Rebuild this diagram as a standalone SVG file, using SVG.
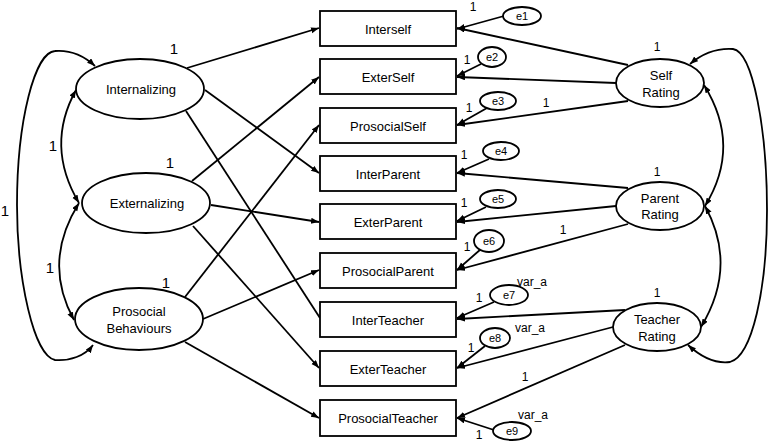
<svg xmlns="http://www.w3.org/2000/svg" width="770" height="445" viewBox="0 0 770 445">
<defs>
<marker id="ah" markerUnits="userSpaceOnUse" markerWidth="9" markerHeight="7" refX="8" refY="3" orient="auto-start-reverse">
<path d="M0,0 L8,3 L0,6 z" fill="#000"/>
</marker>
<style>
.n{fill:#fff;stroke:#000;stroke-width:1.8}
.c{fill:none;stroke:#000;stroke-width:1.8}
.t{font-family:"Liberation Sans",Arial,sans-serif;font-size:13px;fill:#000;text-anchor:middle;dominant-baseline:central}
.e{font-family:"Liberation Sans",Arial,sans-serif;font-size:11px;fill:#000;text-anchor:middle;dominant-baseline:central}
.s{font-family:"Liberation Sans",Arial,sans-serif;font-size:12px;fill:#000;text-anchor:middle;dominant-baseline:central}
.b{font-family:"Liberation Sans",Arial,sans-serif;font-size:15px;fill:#000;text-anchor:middle;dominant-baseline:central}
</style>
</defs>
<rect width="770" height="445" fill="#fff"/>

<g id="connectors">
<!-- left factor loadings -->
<line class="c" x1="187" y1="68" x2="319" y2="28" marker-end="url(#ah)"/>
<line class="c" x1="205" y1="90" x2="319" y2="173" marker-end="url(#ah)"/>
<line class="c" x1="186" y1="111" x2="320" y2="318"/>
<line class="c" x1="192" y1="181" x2="319" y2="77" marker-end="url(#ah)"/>
<line class="c" x1="211" y1="205" x2="319" y2="222" marker-end="url(#ah)"/>
<line class="c" x1="193" y1="226" x2="319" y2="368" marker-end="url(#ah)"/>
<line class="c" x1="185" y1="297" x2="319" y2="125" marker-end="url(#ah)"/>
<line class="c" x1="203" y1="319" x2="319" y2="270" marker-end="url(#ah)"/>
<line class="c" x1="185" y1="342" x2="319" y2="418" marker-end="url(#ah)"/>
<!-- right method loadings -->
<line class="c" x1="628" y1="65" x2="457" y2="28" marker-end="url(#ah)"/>
<line class="c" x1="616" y1="83" x2="457" y2="77" marker-end="url(#ah)"/>
<line class="c" x1="628" y1="101" x2="457" y2="125" marker-end="url(#ah)"/>
<line class="c" x1="628" y1="188" x2="457" y2="173" marker-end="url(#ah)"/>
<line class="c" x1="616" y1="206" x2="457" y2="222" marker-end="url(#ah)"/>
<line class="c" x1="628" y1="224" x2="457" y2="270" marker-end="url(#ah)"/>
<line class="c" x1="625" y1="310" x2="457" y2="319" marker-end="url(#ah)"/>
<line class="c" x1="613" y1="327" x2="457" y2="368" marker-end="url(#ah)"/>
<line class="c" x1="625" y1="345" x2="457" y2="418" marker-end="url(#ah)"/>
<!-- error terms -->
<line class="c" x1="504" y1="16" x2="457" y2="29" marker-end="url(#ah)"/>
<line class="c" x1="481" y1="64" x2="457" y2="76" marker-end="url(#ah)"/>
<line class="c" x1="487" y1="108" x2="457" y2="125" marker-end="url(#ah)"/>
<line class="c" x1="489" y1="159" x2="457" y2="173" marker-end="url(#ah)"/>
<line class="c" x1="486" y1="207" x2="457" y2="221" marker-end="url(#ah)"/>
<line class="c" x1="481" y1="249" x2="457" y2="270" marker-end="url(#ah)"/>
<line class="c" x1="494" y1="302" x2="457" y2="318" marker-end="url(#ah)"/>
<line class="c" x1="485" y1="346" x2="457" y2="368" marker-end="url(#ah)"/>
<line class="c" x1="494" y1="430" x2="457" y2="418" marker-end="url(#ah)"/>
<!-- left covariances -->
<path class="c" d="M76 90 Q45 146 79 203" marker-start="url(#ah)" marker-end="url(#ah)"/>
<path class="c" d="M79 203 Q42 262 74 320" marker-start="url(#ah)" marker-end="url(#ah)"/>
<path class="c" d="M93 345 C85 356 70 361 55 360 C34 356 17 280 17 205 C17 120 35 52 55 51 C68 50 82 54 95 66" marker-start="url(#ah)" marker-end="url(#ah)"/>
<!-- right covariances -->
<path class="c" d="M704 85 Q742 146 705 206" marker-start="url(#ah)" marker-end="url(#ah)"/>
<path class="c" d="M705 206 Q738 266 701 327" marker-start="url(#ah)" marker-end="url(#ah)"/>
<path class="c" d="M690 64 C703 53 718 48 733 49 C753 52 767 130 767 210 C767 290 752 356 730 362 C715 364 700 356 688 345" marker-start="url(#ah)" marker-end="url(#ah)"/>
</g>

<g id="Internalizing"><ellipse class="n" cx="140" cy="89" rx="64" ry="30"/><text class="t" x="141" y="89">Internalizing</text></g>
<g id="Externalizing"><ellipse class="n" cx="146" cy="203" rx="64" ry="30"/><text class="t" x="147" y="203">Externalizing</text></g>
<g id="Prosocial"><ellipse class="n" cx="139" cy="319" rx="64" ry="31"/><text class="t" x="139" y="311">Prosocial</text><text class="t" x="139" y="328">Behaviours</text></g>

<g id="SelfRating"><ellipse class="n" cx="660" cy="83" rx="44" ry="24"/><text class="t" x="661" y="75">Self</text><text class="t" x="661" y="92">Rating</text></g>
<g id="ParentRating"><ellipse class="n" cx="660" cy="206" rx="44" ry="24"/><text class="t" x="660" y="198">Parent</text><text class="t" x="660" y="214">Rating</text></g>
<g id="TeacherRating"><ellipse class="n" cx="657" cy="327" rx="44" ry="24"/><text class="t" x="657" y="319">Teacher</text><text class="t" x="657" y="336">Rating</text></g>

<g id="Interself"><rect class="n" x="320" y="11" width="136" height="35"/><text class="t" x="388" y="29">Interself</text></g>
<g id="ExterSelf"><rect class="n" x="320" y="59" width="136" height="35"/><text class="t" x="388" y="77">ExterSelf</text></g>
<g id="ProsocialSelf"><rect class="n" x="320" y="108" width="136" height="35"/><text class="t" x="388" y="126">ProsocialSelf</text></g>
<g id="InterParent"><rect class="n" x="320" y="156" width="136" height="35"/><text class="t" x="388" y="174">InterParent</text></g>
<g id="ExterParent"><rect class="n" x="320" y="204" width="136" height="35"/><text class="t" x="388" y="222">ExterParent</text></g>
<g id="ProsocialParent"><rect class="n" x="320" y="253" width="136" height="35"/><text class="t" x="388" y="271">ProsocialParent</text></g>
<g id="InterTeacher"><rect class="n" x="320" y="302" width="136" height="35"/><text class="t" x="388" y="320">InterTeacher</text></g>
<g id="ExterTeacher"><rect class="n" x="320" y="351" width="136" height="35"/><text class="t" x="388" y="369">ExterTeacher</text></g>
<g id="ProsocialTeacher"><rect class="n" x="320" y="400" width="136" height="36"/><text class="t" x="388" y="418">ProsocialTeacher</text></g>

<g id="e1"><ellipse class="n" cx="522" cy="16" rx="19" ry="9"/><text class="e" x="522" y="16">e1</text></g>
<g id="e2"><ellipse class="n" cx="492" cy="57" rx="14" ry="10"/><text class="e" x="492" y="57">e2</text></g>
<g id="e3"><ellipse class="n" cx="498" cy="101" rx="18" ry="9"/><text class="e" x="498" y="101">e3</text></g>
<g id="e4"><ellipse class="n" cx="501" cy="151" rx="18" ry="9"/><text class="e" x="501" y="151">e4</text></g>
<g id="e5"><ellipse class="n" cx="498" cy="199" rx="18" ry="9"/><text class="e" x="498" y="199">e5</text></g>
<g id="e6"><ellipse class="n" cx="489" cy="241" rx="15" ry="11"/><text class="e" x="489" y="241">e6</text></g>
<g id="e7"><ellipse class="n" cx="509" cy="295" rx="19" ry="10"/><text class="e" x="509" y="295">e7</text></g>
<g id="e8"><ellipse class="n" cx="495" cy="338" rx="15" ry="10"/><text class="e" x="495" y="338">e8</text></g>
<g id="e9"><ellipse class="n" cx="512" cy="431" rx="19" ry="9"/><text class="e" x="512" y="431">e9</text></g>

<g id="labels">
<text class="b" x="174" y="48">1</text>
<text class="b" x="170" y="162">1</text>
<text class="b" x="166" y="282">1</text>
<text class="b" x="53" y="145">1</text>
<text class="b" x="50" y="267">1</text>
<text class="b" x="5" y="210">1</text>
<text class="s" x="657" y="47">1</text>
<text class="s" x="657" y="172">1</text>
<text class="s" x="657" y="293">1</text>
<text class="s" x="546" y="103">1</text>
<text class="s" x="563" y="230">1</text>
<text class="s" x="525" y="377">1</text>
<text class="s" x="473" y="7">1</text>
<text class="s" x="467" y="60">1</text>
<text class="s" x="469" y="108">1</text>
<text class="s" x="464" y="155">1</text>
<text class="s" x="464" y="203">1</text>
<text class="s" x="467" y="247">1</text>
<text class="s" x="479" y="298">1</text>
<text class="s" x="471" y="348">1</text>
<text class="s" x="479" y="435">1</text>
<text class="s" x="532" y="282">var_a</text>
<text class="s" x="530" y="328">var_a</text>
<text class="s" x="533" y="415">var_a</text>
</g>
</svg>
